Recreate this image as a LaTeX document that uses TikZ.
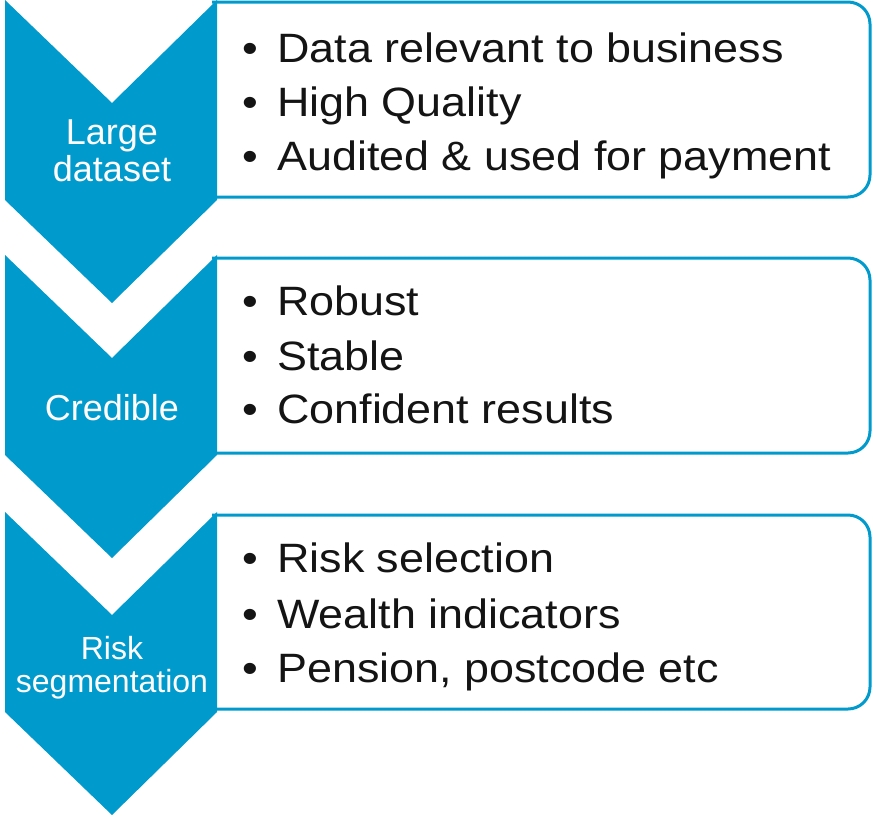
\documentclass[tikz,border=0pt]{standalone}
\usepackage{fontspec}
\setmainfont{Liberation Sans}
\newfontfamily\bodyfont[FakeStretch=1.095]{Liberation Sans}
\definecolor{chevblue}{RGB}{0,154,205}
\definecolor{txt}{RGB}{20,20,20}
\tikzset{
  chev/.style={fill=chevblue, draw=none},
  infobox/.style={draw=chevblue, line width=3pt, fill=white},
  chevlabel/.style={text=white, inner sep=0pt, align=center, font=\fontsize{36}{37}\selectfont},
  bul/.style={anchor=base, inner sep=0pt, text=txt, font=\bodyfont\fontsize{41}{54}\selectfont},
  item/.style={anchor=base west, inner sep=0pt, text=txt, font=\bodyfont\fontsize{41}{54}\selectfont}
}
\begin{document}
\begin{tikzpicture}[x=1pt,y=-1pt]
\useasboundingbox (0,0) rectangle (873,817);
% boxes (left side hidden by the chevrons)
\filldraw[infobox] (212,2) [rounded corners=22pt] -- (870,2) -- (870,197) -- (212,197);
\filldraw[infobox] (212,258) [rounded corners=22pt] -- (870,258) -- (870,453) -- (212,453);
\filldraw[infobox] (212,515) [rounded corners=22pt] -- (870,515) -- (870,709) -- (212,709);
% chevrons
\foreach \y in {0,255,512}{
  \fill[chev] (5,\y) -- (112,\y+103) -- (217,\y) -- (217,\y+200) -- (112,\y+303) -- (5,\y+200) -- cycle;
}
% labels
\node[chevlabel] (l1) at (112,151) {Large\\dataset};
\node[chevlabel, anchor=base] (l2) at (112,420) {Credible};
\node[chevlabel, font=\fontsize{32}{33}\selectfont] (l3) at (112,668) {Risk\\segmentation};
% box 1
\node[bul] (b11) at (250,62) {\textbullet};
\node[item] (t11) at (277,62) {Data relevant to business};
\node[bul] (b12) at (250,116) {\textbullet};
\node[item] (t12) at (277,116) {High Quality};
\node[bul] (b13) at (250,170) {\textbullet};
\node[item] (t13) at (277,170) {Audited \& used for payment};
% box 2
\node[bul] (b21) at (250,315) {\textbullet};
\node[item] (t21) at (277,315) {Robust};
\node[bul] (b22) at (250,370) {\textbullet};
\node[item] (t22) at (277,370) {Stable};
\node[bul] (b23) at (250,423) {\textbullet};
\node[item] (t23) at (277,423) {Confident results};
% box 3
\node[bul] (b31) at (250,572) {\textbullet};
\node[item] (t31) at (277,572) {Risk selection};
\node[bul] (b32) at (250,628) {\textbullet};
\node[item] (t32) at (277,628) {Wealth indicators};
\node[bul] (b33) at (250,682) {\textbullet};
\node[item] (t33) at (277,682) {Pension, postcode etc};
\end{tikzpicture}
\end{document}
